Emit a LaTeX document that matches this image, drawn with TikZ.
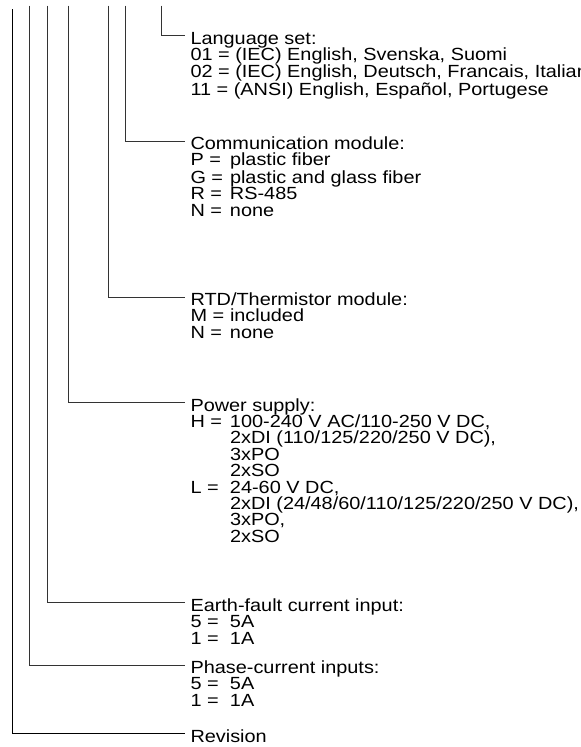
\documentclass[tikz,border=0pt]{standalone}
\usepackage{fontspec}
\setmainfont{Liberation Sans}[FakeStretch=1.13]
\newlength\kvw
\setlength\kvw{39.5pt}
\newcommand\kvline[2]{\makebox[\kvw][l]{#1}#2}
\newcommand\kvcont[1]{\hspace*{\kvw}#1}
\newcommand\firstrule{\rule{0pt}{16.4pt}}
\begin{document}
\begin{tikzpicture}[x=1pt,y=-1pt,
  conn/.style={draw=black!80,line width=0.9pt},
  txt/.style={font=\fontsize{17.6}{16.4}\selectfont,inner xsep=5.5pt,inner ysep=0pt,outer sep=0pt},
  head/.style={txt,anchor=west,text height=17pt,text depth=0pt},
  body/.style={txt,anchor=north west,align=left}]
\useasboundingbox (0,0) rectangle (581,747);
% headings (lead meets the upper part of the capitals)
\node[head] (lang)  at (185,35.5)  {Language set:};
\node[head] (comm)  at (185,141)   {Communication module:};
\node[head] (rtd)   at (185,297)   {RTD/Thermistor module:};
\node[head] (pow)   at (185,402.5) {Power supply:};
\node[head] (earth) at (185,602.7) {Earth-fault current input:};
\node[head] (phase) at (185,665)   {Phase-current inputs:};
\node[head] (rev)   at (185,733.5) {Revision};
% bodies
\node[body] (langb) at (lang.south west) {\firstrule 01 = (IEC) English, Svenska, Suomi\\
02 = (IEC) English, Deutsch, Francais, Italian\\
11 = (ANSI) English, Español, Portugese};
\node[body] (commb) at (comm.south west) {\firstrule\kvline{P =}{plastic fiber}\\
\kvline{G =}{plastic and glass fiber}\\
\kvline{R =}{RS-485}\\
\kvline{N =}{none}};
\node[body] (rtdb) at (rtd.south west) {\firstrule\kvline{M =}{included}\\
\kvline{N =}{none}};
\node[body] (powb) at (pow.south west) {\firstrule\kvline{H =}{100-240 V AC/110-250 V DC,}\\
\kvcont{2xDI (110/125/220/250 V DC),}\\
\kvcont{3xPO}\\
\kvcont{2xSO}\\
\kvline{L =}{24-60 V DC,}\\
\kvcont{2xDI (24/48/60/110/125/220/250 V DC),}\\
\kvcont{3xPO,}\\
\kvcont{2xSO}};
\node[body] (earthb) at (earth.south west) {\firstrule\kvline{5 =}{5A}\\
\kvline{1 =}{1A}};
\node[body] (phaseb) at (phase.south west) {\firstrule\kvline{5 =}{5A}\\
\kvline{1 =}{1A}};
% top ends of the leads
\coordinate (tlang)  at (161.7,5.5);
\coordinate (tcomm)  at (125,5.5);
\coordinate (trtd)   at (108.3,5.5);
\coordinate (tpow)   at (68.3,5.5);
\coordinate (tearth) at (47.7,5.5);
\coordinate (tphase) at (29.3,5.5);
\coordinate (trev)   at (12.7,9);
\draw[conn] (tlang)  |- (lang.west);
\draw[conn] (tcomm)  |- (comm.west);
\draw[conn] (trtd)   |- (rtd.west);
\draw[conn] (tpow)   |- (pow.west);
\draw[conn] (tearth) |- (earth.west);
\draw[conn] (tphase) |- (phase.west);
\draw[conn,draw=black] (trev) |- (rev.west);
\end{tikzpicture}
\end{document}
